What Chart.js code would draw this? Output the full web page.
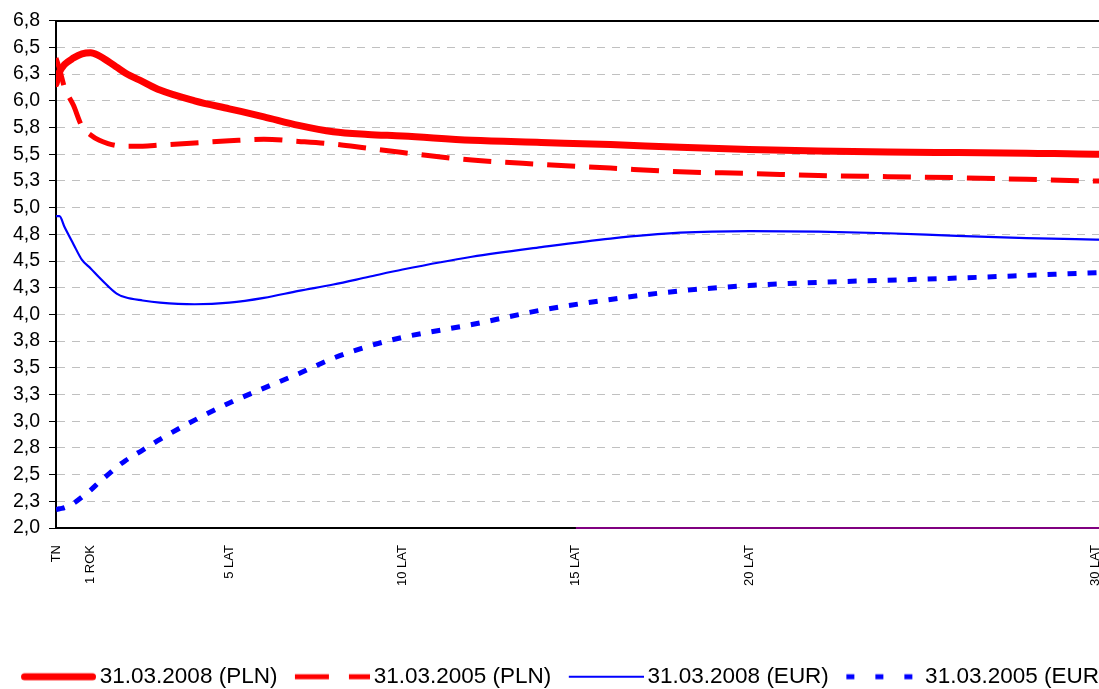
<!DOCTYPE html>
<html>
<head>
<meta charset="utf-8">
<title>Krzywe rentowności</title>
<style>
  html, body { margin: 0; padding: 0; overflow: hidden; background: #fff; }
  .chart-box { position: relative; width: 1120px; height: 698px; }
</style>
</head>
<body>
<div class="chart-box"><canvas id="chart"></canvas></div>

<script src="https://cdn.jsdelivr.net/npm/chart.js@4/dist/chart.umd.min.js"></script>
<script>
// tenor in years (TN = 0)
const years = [0, 0.1, 0.25, 0.5, 0.75, 1, 1.25, 1.5, 1.75, 2, 2.5, 3, 4, 5, 6, 7, 8, 9, 10,
               12, 14, 16, 18, 20, 22, 24, 26, 28, 30, 30.7];

const plnMar2008 = [6.16, 6.27, 6.34, 6.40, 6.44, 6.45, 6.42, 6.37, 6.315, 6.26, 6.18, 6.10, 6.00, 5.925,
                    5.85, 5.77, 5.71, 5.685, 5.67, 5.63, 5.61, 5.59, 5.565, 5.545, 5.53, 5.52,
                    5.515, 5.51, 5.50, 5.50];
const plnMar2005 = [6.40, 6.30, 6.12, 5.96, 5.76, 5.68, 5.63, 5.60, 5.58, 5.575, 5.575, 5.585, 5.605, 5.625,
                    5.64, 5.62, 5.595, 5.555, 5.515, 5.445, 5.405, 5.37, 5.335, 5.32, 5.30, 5.29,
                    5.28, 5.265, 5.25, 5.25];
const eurMar2008 = [4.92, 4.92, 4.815, 4.66, 4.51, 4.43, 4.345, 4.265, 4.195, 4.16, 4.13, 4.11, 4.095, 4.11,
                    4.155, 4.22, 4.28, 4.35, 4.42, 4.54, 4.63, 4.71, 4.765, 4.78, 4.775, 4.76,
                    4.735, 4.715, 4.70, 4.695];
const eurMar2005 = [2.17, 2.18, 2.19, 2.23, 2.29, 2.355, 2.43, 2.50, 2.57, 2.63, 2.73, 2.83, 3.01, 3.17,
                    3.31, 3.445, 3.59, 3.70, 3.785, 3.905, 4.04, 4.14, 4.22, 4.27, 4.30, 4.32,
                    4.34, 4.365, 4.39, 4.395];

// extra series lying on the bottom of the plot from 15 years on
const bottomYears = [15, 30.7];
const bottomValues = [2.0, 2.0];

const seriesNames = ['31.03.2008 (PLN)', '31.03.2005 (PLN)', '31.03.2008 (EUR)', '31.03.2005 (EUR)'];

const tickYears = [0, 1, 5, 10, 15, 20, 30];
const tickLabels = ['TN', '1 ROK', '5 LAT', '10 LAT', '15 LAT', '20 LAT', '30 LAT'];

const yMin = 2.0, yMax = 6.75, yStep = 0.25;
const xMax = 30.7;

const FONT = 'Arial, "Liberation Sans", sans-serif';
Chart.defaults.font.family = FONT;
Chart.defaults.color = '#000';

function points(xs, ys) {
    return xs.map((x, i) => ({ x: x, y: ys[i] }));
}

// little canvas used as legend marker so the dash pattern comes out right
function legendSample(color, width, dash, cap) {
    const c = document.createElement('canvas');
    c.width = 90;
    c.height = 12;
    const g = c.getContext('2d');
    g.strokeStyle = color;
    g.lineWidth = width;
    g.lineCap = cap || 'butt';
    g.setLineDash(dash);
    const inset = cap === 'round' ? width / 2 : 0;
    g.beginPath();
    g.moveTo(15 + inset, 6);
    g.lineTo(90 - inset, 6);
    g.stroke();
    return c;
}

const samples = [
    legendSample('#ff0000', 7, [], 'round'),
    legendSample('#ff0000', 5, [34, 20]),
    legendSample('#0000ff', 2, []),
    legendSample('#0000ff', 5, [8, 21])
];

const ctx = document.getElementById('chart').getContext('2d');
const chart = new Chart(ctx, {
    type: 'line',
    data: {
        datasets: [{
            label: seriesNames[0],
            data: points(years, plnMar2008),
            borderColor: '#ff0000',
            borderWidth: 7,
            borderCapStyle: 'round'
        }, {
            label: seriesNames[1],
            data: points(years, plnMar2005),
            borderColor: '#ff0000',
            borderWidth: 5,
            borderDash: [28, 14]
        }, {
            label: seriesNames[2],
            data: points(years, eurMar2008),
            borderColor: '#0000ff',
            borderWidth: 2.2
        }, {
            label: seriesNames[3],
            data: points(years, eurMar2005),
            borderColor: '#0000ff',
            borderWidth: 5,
            borderDash: [9, 11]
        }, {
            label: '',
            data: points(bottomYears, bottomValues),
            borderColor: '#800080',
            borderWidth: 2,
            clip: false
        }]
    },
    options: {
        responsive: true,
        maintainAspectRatio: false,
        animation: false,
        layout: { padding: { top: 19, left: 0, right: 0, bottom: 0 } },
        elements: {
            point: { radius: 0, hoverRadius: 0 },
            line: { cubicInterpolationMode: 'monotone', fill: false }
        },
        plugins: {
            tooltip: { enabled: false },
            legend: {
                position: 'bottom',
                labels: {
                    usePointStyle: true,
                    pointStyleWidth: 75,
                    padding: 10,
                    color: '#000',
                    font: { size: 22.5 },
                    generateLabels: (c) => c.data.datasets.slice(0, 4).map((ds, i) => ({
                        text: ds.label,
                        pointStyle: samples[i],
                        datasetIndex: i,
                        hidden: false,
                        fontColor: '#000',
                        lineWidth: 0,
                        fillStyle: 'rgba(0,0,0,0)',
                        strokeStyle: 'rgba(0,0,0,0)'
                    }))
                }
            }
        },
        scales: {
            x: {
                type: 'linear',
                position: 'bottom',
                min: 0,
                max: xMax,
                afterBuildTicks: (scale) => {
                    scale.ticks = tickYears.map(v => ({ value: v }));
                },
                afterFit: (scale) => {
                    scale.height = 127.5;
                    scale.paddingLeft = 0;
                    scale.paddingRight = 0;
                },
                ticks: {
                    autoSkip: false,
                    minRotation: 90,
                    maxRotation: 90,
                    padding: 17,
                    font: { size: 13 },
                    color: '#000',
                    callback: (v) => tickLabels[tickYears.indexOf(v)]
                },
                grid: { display: false, drawTicks: false },
                border: { display: true, color: '#000', width: 2 }
            },
            xTop: {
                type: 'linear',
                position: 'top',
                min: 0,
                max: 1,
                afterFit: (scale) => {
                    scale.paddingLeft = 0;
                    scale.paddingRight = 0;
                },
                ticks: { display: false },
                grid: { display: false, drawTicks: false },
                border: { display: true, color: '#000', width: 2 }
            },
            y: {
                min: yMin,
                max: yMax,
                afterFit: (scale) => { scale.width = 56; },
                ticks: {
                    stepSize: yStep,
                    padding: 9,
                    font: { size: 19.5 },
                    color: '#000',
                    callback: (v) => v.toFixed(1).replace('.', ',')
                },
                grid: {
                    color: (c) => (c.tick && (c.tick.value === yMin || c.tick.value === yMax)) ? 'rgba(0,0,0,0)' : '#c0c0c0',
                    lineWidth: 1,
                    tickLength: 7,
                    tickColor: '#000',
                    tickWidth: 1,
                    tickBorderDash: []
                },
                border: { display: true, color: '#000', width: 2, dash: [8, 7] }
            }
        }
    }
});
</script>
</body>
</html>
